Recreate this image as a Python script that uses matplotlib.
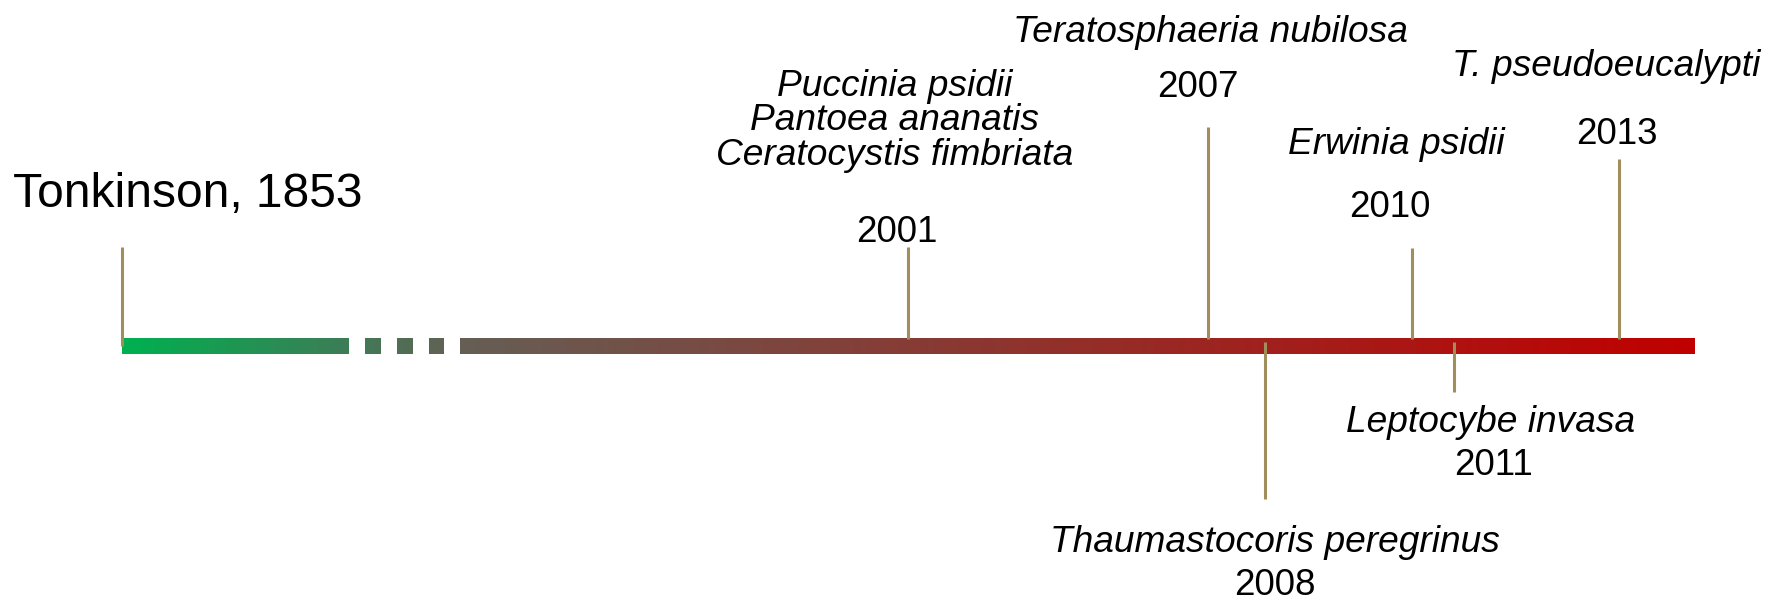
"""
Timeline of eucalyptus pest / pathogen introductions
"""

import matplotlib.pyplot as plt
import numpy as np
from matplotlib.colors import LinearSegmentedColormap

plt.rcParams['font.family'] = ['Liberation Sans', 'DejaVu Sans']

# data
years = [2001, 2007, 2008, 2010, 2011, 2013]
species = [
    ['Puccinia psidii', 'Pantoea ananatis', 'Ceratocystis fimbriata'],
    ['Teratosphaeria nubilosa'],
    ['Thaumastocoris peregrinus'],
    ['Erwinia psidii'],
    ['Leptocybe invasa'],
    ['T. pseudoeucalypti'],
]
# where each year sits on the (broken) timeline
timeline_pos = [908, 1208, 1265, 1412, 1454, 1619]
origin_label = 'Tonkinson, 1853'
origin_pos = 122

# layout
W, H = 1781, 603
bar_y0, bar_y1 = 338, 354
bar_end = 1695
# solid / dashed pieces of the bar (start, end)
bar_pieces = [(122, 349), (365, 381), (397, 413), (429, 444), (460, 1695)]
stem_tip = [247, 127, 499, 248, 392, 159]
origin_tip = 247
# label anchors
label_x_species = [895, 1210, 1275, 1396, 1491, 1606]
label_x_year = [897, 1198, 1275, 1390, 1494, 1617]
species_base = [96, 42, 552, 154, 432, 76]
year_base = [242, 97, 595, 217, 475, 144]
line_step = 34.5

stem_color = '#A08F5C'
grad_cmap = LinearSegmentedColormap.from_list('tl', [
    (0.0, (0 / 255, 176 / 255, 80 / 255)),
    ((349 - 122) / (bar_end - 122), (62 / 255, 124 / 255, 86 / 255)),
    ((460 - 122) / (bar_end - 122), (102 / 255, 94 / 255, 84 / 255)),
    (1.0, (192 / 255, 0, 0)),
])

fig = plt.figure(figsize=(W / 100, H / 100), dpi=100)
ax = fig.add_axes([0, 0, 1, 1])
ax.set_xlim(0, W)
ax.set_ylim(H, 0)
ax.axis('off')

# gradient bar
for x0, x1 in bar_pieces:
    f0 = (x0 - origin_pos) / (bar_end - origin_pos)
    f1 = (x1 - origin_pos) / (bar_end - origin_pos)
    grad = np.linspace(f0, f1, 256).reshape(1, -1)
    ax.imshow(grad, cmap=grad_cmap, vmin=0, vmax=1, aspect='auto',
              extent=(x0, x1, bar_y1, bar_y0), interpolation='bilinear', zorder=1)

# stems
ax.plot([origin_pos, origin_pos], [origin_tip, 346], color=stem_color, lw=2.2,
        solid_capstyle='butt', zorder=2)
for x, tip in zip(timeline_pos, stem_tip):
    if tip < bar_y0:
        ax.plot([x, x], [tip, bar_y0 + 1], color=stem_color, lw=2.2,
                solid_capstyle='butt', zorder=2)
    else:
        ax.plot([x, x], [bar_y0 + 4, tip], color=stem_color, lw=2.2,
                solid_capstyle='butt', zorder=2)

# labels
ax.text(13, 207, origin_label, fontsize=34.5, ha='left', va='baseline')
for i, yr in enumerate(years):
    for j, name in enumerate(species[i]):
        ax.text(label_x_species[i], species_base[i] + j * line_step, name,
                fontsize=26.7, style='italic', ha='center', va='baseline')
    ax.text(label_x_year[i], year_base[i], str(yr), fontsize=26.5,
            ha='center', va='baseline')

plt.savefig('out.png', dpi=100)
plt.close()
